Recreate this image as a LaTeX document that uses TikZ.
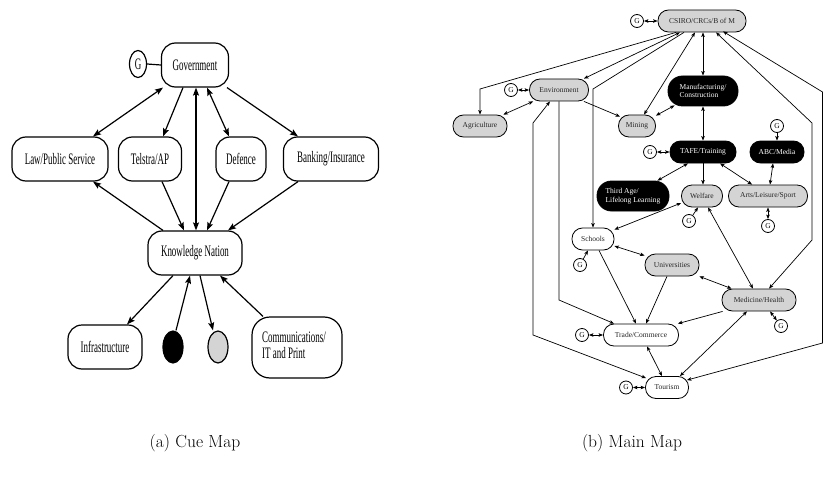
\documentclass[tikz,border=0pt]{standalone}
\usepackage{fontspec}
\usepackage{graphicx}
\newfontfamily\tms{Liberation Serif}
\usetikzlibrary{arrows.meta,calc,shapes.geometric}
\newcommand{\cuetxt}[1]{\scalebox{0.56}[1]{#1}}
\begin{document}
\begin{tikzpicture}[x=1pt,y=-1pt,
  cbox/.style={draw, line width=1.2pt, rounded corners=14pt, minimum height=44pt, inner sep=0pt, font=\tms\fontsize{16}{16}\selectfont},
  cell/.style={ellipse, draw, line width=1.2pt, inner sep=0pt, minimum width=20pt, minimum height=32pt},
  cedge/.style={line width=1.2pt},
  mbox/.style={draw, line width=0.8pt, inner sep=0pt, minimum height=22pt, rounded corners=10.5pt, font=\tms\fontsize{7.5}{8.5}\selectfont, text=black!85},
  tallbox/.style={minimum height=30pt, rounded corners=14.5pt, align=left},
  greybox/.style={fill=black!17},
  blackbox/.style={fill=black, text=white},
  gcirc/.style={circle, draw, line width=0.8pt, minimum size=13pt, inner sep=0pt, font=\tms\fontsize{7.5}{8}\selectfont},
  medge/.style={line width=0.7pt},
  capt/.style={font=\fontsize{17.5}{20}\selectfont}
]
\useasboundingbox (0,0) rectangle (824,484);

% ---------------- Cue map ----------------
\begin{scope}[>={Stealth[length=8pt,width=6pt,inset=1.5pt]}]
\node[cbox, minimum width=67pt] (gov) at (195,65) {\cuetxt{Government}};
\node[cbox, minimum width=96pt] (law) at (60,159) {\cuetxt{Law/Public Service}};
\node[cbox, minimum width=63pt] (tel) at (150,159) {\cuetxt{Telstra/AP}};
\node[cbox, minimum width=50pt] (def) at (241,159) {\cuetxt{Defence}};
\node[cbox, minimum width=95pt] (bank) at (331,159) {\cuetxt{Banking/Insurance}};
\node[cbox, minimum width=94pt] (kn) at (195,253) {\cuetxt{Knowledge Nation}};
\node[cbox, minimum width=74pt] (inf) at (105,347) {\cuetxt{Infrastructure}};
\node[cbox, minimum width=90pt, minimum height=61pt, rounded corners=18pt] (comm) at (297,347.5)
  {\hspace*{-6pt}\cuetxt{\begin{tabular}{@{}l@{}}Communications/\\IT and Print\end{tabular}}};
\node[cell, fill=black] (blk) at (173,347) {};
\node[cell, fill=black!17] (gry) at (218,347) {};
\node[ellipse, draw, line width=1.2pt, inner sep=0pt, minimum width=17pt, minimum height=27pt,
  font=\tms\fontsize{16}{16}\selectfont] (g0) at (138,64) {\cuetxt{G}};

\draw[cedge] (g0.east) -- (gov.west);
\draw[cedge,<->] ($(gov.south)+(-32,0)$) -- ($(law.north)+(33,0)$);
\draw[cedge,->] ($(gov.south)+(-12,0)$) -- ($(tel.north)+(13,0)$);
\draw[cedge,<->] ($(gov.south)+(1,0)$) -- ($(kn.north)+(1,0)$);
\draw[cedge,<->] ($(gov.south)+(12,0)$) -- ($(def.north)+(-12,0)$);
\draw[cedge,->] ($(gov.south)+(32,0)$) -- ($(bank.north)+(-33,0)$);
\draw[cedge,->] ($(kn.north)+(-32,0)$) -- ($(law.south)+(33,0)$);
\draw[cedge,->] ($(tel.south)+(12,0)$) -- ($(kn.north)+(-11,0)$);
\draw[cedge,->] ($(def.south)+(-12,0)$) -- ($(kn.north)+(12,0)$);
\draw[cedge,->] ($(bank.south)+(-33,0)$) -- ($(kn.north)+(33,0)$);
\draw[cedge,->] ($(kn.south)+(-22,0)$) -- ($(inf.north)+(22,0)$);
\draw[cedge,->] ($(blk.north)+(3,0)$) -- ($(kn.south)+(-5,0)$);
\draw[cedge,->] ($(kn.south)+(5,0)$) -- ($(gry.north)+(-5,0)$);
\draw[cedge,->] ($(comm.north)+(-34,0)$) -- ($(kn.south)+(25,0)$);
\end{scope}

% ---------------- Main map ----------------
\begin{scope}[>={Stealth[length=4.5pt,width=3.5pt,inset=1pt]}]
\node[mbox, greybox, minimum width=88pt] (csiro) at (702,21) {CSIRO/CRCs/B of M};
\node[mbox, greybox, minimum width=59pt] (env) at (559,90) {Environment};
\node[mbox, greybox, minimum width=54pt] (agr) at (480,126) {Agriculture};
\node[mbox, greybox, minimum width=37pt] (min) at (637,126) {Mining};
\node[mbox, blackbox, tallbox, minimum width=70pt] (man) at (703,91) {Manufacturing/\\Construction};
\node[mbox, blackbox, minimum width=66pt] (tafe) at (703,152) {TAFE/Training};
\node[mbox, blackbox, minimum width=54pt] (abc) at (777,152) {ABC/Media};
\node[mbox, blackbox, tallbox, minimum width=72pt] (third) at (633,196) {Third Age/\\Lifelong Learning};
\node[mbox, greybox, minimum width=41pt] (wel) at (702,196) {Welfare};
\node[mbox, greybox, minimum width=79pt] (arts) at (768,196) {Arts/Leisure/Sport};
\node[mbox, fill=white, minimum width=42pt] (sch) at (593,239) {Schools};
\node[mbox, greybox, minimum width=54pt] (uni) at (672,265) {Universities};
\node[mbox, greybox, minimum width=74pt] (med) at (759,300) {Medicine/Health};
\node[mbox, fill=white, minimum width=75pt] (trade) at (641,335) {Trade/Commerce};
\node[mbox, fill=white, minimum width=43pt] (tour) at (667,387.5) {Tourism};

\node[gcirc] (gc) at (637,21) {G};
\node[gcirc] (ge) at (511,90) {G};
\node[gcirc] (gt) at (650,152) {G};
\node[gcirc] (ga) at (777,126) {G};
\node[gcirc] (gw) at (689,221) {G};
\node[gcirc] (gar) at (768,226) {G};
\node[gcirc] (gs) at (580,265) {G};
\node[gcirc] (gm) at (781,326) {G};
\node[gcirc] (gtr) at (582,335) {G};
\node[gcirc] (gto) at (626,387.5) {G};

% G links
\draw[medge,<->] (gc.east) -- (csiro.west);
\draw[medge,<->] (ge.east) -- (env.west);
\draw[medge,<->] (gt.east) -- (tafe.west);
\draw[medge,<->] (gtr.east) -- (trade.west);
\draw[medge,<->] (gto.east) -- (tour.west);
\draw[medge,->] (ga.south) -- (abc.north);
\draw[medge,->] (gw) -- ($(wel.south)+(-4,0)$);
\draw[medge,<->] (gar.north) -- (arts.south);
\draw[medge,<->] ($(med.south)+(11,0)$) -- (gm);
\draw[medge,->] (gs) -- ($(sch.south)+(-5,0)$);

% CSIRO links
\draw[medge,->] ($(csiro.south)+(-26,0)$) -- (480,89) -- (agr.north);
\draw[medge,<->] ($(csiro.south)+(-22,0)$) -- ($(env.north east)+(-5,0)$);
\draw[medge,->] ($(csiro.south)+(-18,0)$) -- (593,89) -- (sch.north);
\draw[medge,<->] ($(csiro.south)+(-7,0)$) -- ($(min.north)+(7,0)$);
\draw[medge,<->] ($(csiro.south)+(1,0)$) -- (man.north);
\draw[medge,<->] ($(csiro.south)+(14,0)$) -- (812,123) -- (812,240) -- ($(med.north)+(10,0)$);
\draw[medge,<->] ($(csiro.south)+(21,-1)$) -- (822.5,92) -- (822.5,343) -- ($(tour.north east)+(-2,4)$);

% Environment links
\draw[medge,->] (env.south) -- (559,300) -- ($(trade.north west)+(11,0)$);
\draw[medge,<->] ($(env.south)+(-9,0)$) -- (533,123) -- (533,335) -- ($(tour.north west)+(1,2)$);
\draw[medge,<->] ($(env.south west)+(4,0)$) -- ($(agr.north east)+(-4,0)$);
\draw[medge,->] ($(env.south east)+(-5,0)$) -- ($(min.north west)+(2,2)$);

% Others
\draw[medge,<->] ($(min.north east)+(0,1)$) -- ($(man.south west)+(7,-1)$);
\draw[medge,<->] (man.south) -- (tafe.north);
\draw[medge,<->] ($(tafe.south)+(-15,0)$) -- ($(third.north east)+(-12,0)$);
\draw[medge,->] (tafe.south) -- (tafe.south |- wel.north);
\draw[medge,<->] ($(tafe.south)+(17,0)$) -- ($(arts.north west)+(24,0)$);
\draw[medge,<->] ($(abc.south)+(-4,0)$) -- ($(arts.north)+(2,0)$);
\draw[medge,<->] ($(wel.west)+(0,7)$) -- ($(sch.north east)+(0,2)$);
\draw[medge,<->] ($(wel.south)+(6,0)$) -- ($(med.north)+(-6,0)$);
\draw[medge,<->] ($(sch.east)+(0,7)$) -- ($(uni.north west)+(0,2)$);
\draw[medge,->] ($(sch.south)+(6,0)$) -- ($(trade.north)+(-5,0)$);
\draw[medge,->] ($(uni.south)+(-5,0)$) -- ($(trade.north)+(5,0)$);
\draw[medge,<->] (uni.south east) -- ($(med.north west)+(10,0)$);
\draw[medge,->] ($(med.south west)+(1,0)$) -- ($(trade.north east)+(-1,0)$);
\draw[medge,<->] ($(med.south)+(-12,0)$) -- ($(tour.north east)+(-9,0)$);
\draw[medge,<->] ($(trade.south)+(6,0)$) -- ($(tour.north)+(-5,0)$);
\end{scope}

% Captions
\node[capt] (capa) at (195,443) {(a) Cue Map};
\node[capt] (capb) at (632,443) {(b) Main Map};
\end{tikzpicture}
\end{document}
